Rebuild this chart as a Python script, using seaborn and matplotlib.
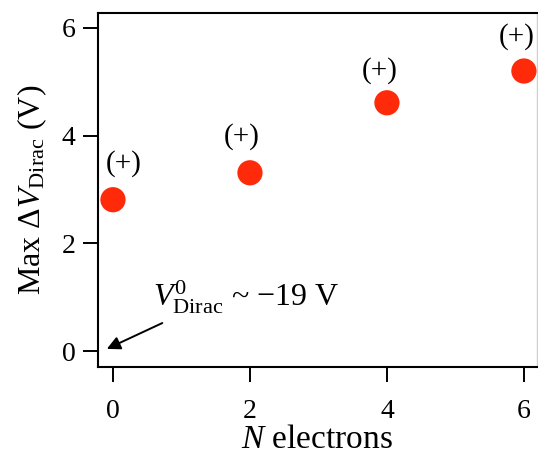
import matplotlib
matplotlib.use("Agg")
import matplotlib.pyplot as plt
import seaborn as sns
import pandas as pd

# data
n_electrons = [0, 2, 4, 6]
max_dv = [2.81, 3.31, 4.61, 5.20]
labels = ["(+)", "(+)", "(+)", "(+)"]
x_ticks = [0, 2, 4, 6]
y_ticks = [0, 2, 4, 6]

df = pd.DataFrame({"N": n_electrons, "dV": max_dv})

sns.set_style("ticks")
plt.rcParams["font.family"] = ["Liberation Serif", "DejaVu Serif"]
plt.rcParams["mathtext.fontset"] = "custom"
plt.rcParams["mathtext.rm"] = "Liberation Serif"
plt.rcParams["mathtext.it"] = "Liberation Serif:italic"
plt.rcParams["mathtext.bf"] = "Liberation Serif:bold"
for k in ["text.color", "axes.labelcolor", "xtick.color", "ytick.color", "axes.edgecolor"]:
    plt.rcParams[k] = "black"

fig = plt.figure(figsize=(5.38, 4.59), dpi=100)
ax = fig.add_axes([0.182, 0.200, 0.816, 0.772])

sns.scatterplot(data=df, x="N", y="dV", ax=ax, s=330, color="#ff2a0a",
                edgecolor="none", linewidth=0, zorder=3)

# (+) labels sit a little off-centre above each dot
label_dx = [8, -6, -5, -5]
label_dy = [26, 26, 23, 25]
for x, y, t, dx, dy in zip(n_electrons, max_dv, labels, label_dx, label_dy):
    ax.annotate(t, (x, y), xytext=(dx, dy), textcoords="offset points",
                ha="center", va="center", fontsize=21)

# arrow pointing at the origin, with the V0 label
ax.annotate("", xy=(-0.09, 0.04), xytext=(0.72, 0.52), textcoords="data",
            arrowprops=dict(arrowstyle="-|>", color="black", lw=1.4,
                            mutation_scale=20, shrinkA=0, shrinkB=0))
ax.text(0.58, 0.82, r"$V^{0}_{\mathrm{Dirac}}$ ~ $-$19 V", fontsize=23,
        ha="left", va="baseline")

ax.set_xlim(-0.22, 6.19)
ax.set_ylim(-0.30, 6.28)
ax.set_xticks(x_ticks)
ax.set_yticks(y_ticks)
ax.set_xlabel(r"$N$ electrons", fontsize=24, labelpad=0)
ax.set_ylabel(r"Max $\Delta V_{\mathrm{Dirac}}$ (V)", fontsize=23, labelpad=9)
ax.tick_params(axis="x", length=11, width=1.4, pad=12, labelsize=20)
ax.tick_params(axis="y", length=11, width=1.4, pad=5, labelsize=20)
for sp in ax.spines.values():
    sp.set_linewidth(1.5)
# right edge is cropped in the original, only a faint line shows
ax.spines["right"].set_color("#cfcfcf")
ax.spines["right"].set_linewidth(1.0)

fig.savefig("out.png", dpi=100)
